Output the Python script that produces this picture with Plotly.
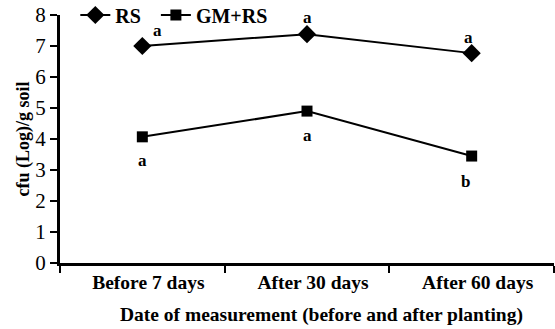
import plotly.graph_objects as go

categories = ["Before 7 days", "After 30 days", "After 60 days"]
rs_values = [7.0, 7.38, 6.77]
gm_values = [4.07, 4.9, 3.45]
rs_letters = ["a", "a", "a"]
gm_letters = ["a", "a", "b"]
y_ticks = [0, 1, 2, 3, 4, 5, 6, 7, 8]

font_family = "Liberation Serif"

fig = go.Figure()
fig.add_trace(go.Scatter(
    x=categories, y=rs_values, name="<b>RS</b>&nbsp;&nbsp;", mode="lines+markers",
    line=dict(color="black", width=2),
    marker=dict(symbol="diamond", size=14, color="black"),
))
fig.add_trace(go.Scatter(
    x=categories, y=gm_values, name="<b>GM+RS</b>", mode="lines+markers",
    line=dict(color="black", width=2),
    marker=dict(symbol="square", size=11, color="black"),
))

rs_shifts = [(15, 16), (0, 17), (-3, 16)]
gm_shifts = [(0, -24), (0, -24), (-6, -25)]
for i, c in enumerate(categories):
    fig.add_annotation(x=c, y=rs_values[i], text="<b>%s</b>" % rs_letters[i], showarrow=False,
                       xshift=rs_shifts[i][0], yshift=rs_shifts[i][1],
                       font=dict(family=font_family, size=17, color="black"))
    fig.add_annotation(x=c, y=gm_values[i], text="<b>%s</b>" % gm_letters[i], showarrow=False,
                       xshift=gm_shifts[i][0], yshift=gm_shifts[i][1],
                       font=dict(family=font_family, size=17, color="black"))

# x-axis title as annotation (offset slightly right of plot centre, as in the reference)
fig.add_annotation(x=0.53, y=0, xref="paper", yref="paper", yshift=-52,
                   xanchor="center", yanchor="middle", showarrow=False,
                   text="<b>Date of measurement (before and after planting)</b>",
                   font=dict(family=font_family, size=19.5, color="black"))

fig.update_layout(
    width=555, height=329,
    margin=dict(l=60, r=1, t=15, b=66, autoexpand=False),
    paper_bgcolor="white", plot_bgcolor="white",
    font=dict(family=font_family, color="black"),
    showlegend=True,
    legend=dict(orientation="h", x=0.031, y=1.0, xanchor="left", yanchor="middle",
                font=dict(family=font_family, size=20, color="black"),
                bgcolor="rgba(0,0,0,0)", itemwidth=30, tracegroupgap=0),
    xaxis=dict(
        type="category", range=[-0.5, 2.5], tickson="boundaries",
        ticks="outside", ticklen=7, tickwidth=2, tickcolor="black",
        showline=True, linecolor="black", linewidth=3,
        showgrid=False, zeroline=False,
        tickprefix="<b>", ticksuffix="</b>", ticklabelshift=6,
        tickfont=dict(family=font_family, size=19.5, color="black"),
    ),
    yaxis=dict(
        range=[0, 8], tickvals=y_ticks, ticks="outside", ticklen=7, tickwidth=2,
        tickcolor="black", showline=True, linecolor="black", linewidth=3,
        showgrid=False, zeroline=False,
        tickprefix="<b>", ticksuffix="</b>",
        tickfont=dict(family=font_family, size=21, color="black"),
        title=dict(text="<b>cfu (Log)/g soil</b>",
                   font=dict(family=font_family, size=18, color="black"), standoff=1),
    ),
)

fig.write_html("out.html")
